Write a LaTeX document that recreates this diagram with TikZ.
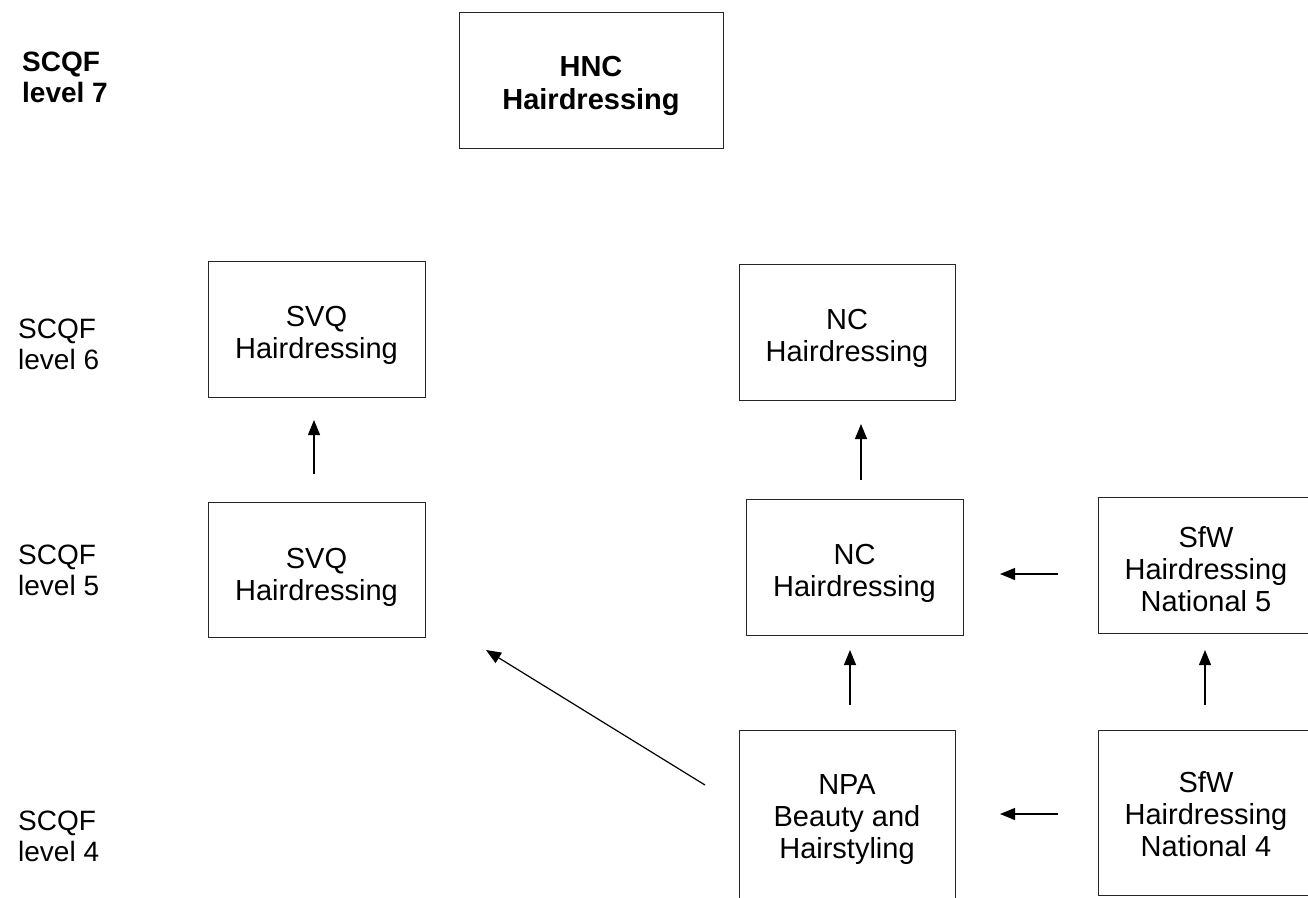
\documentclass[tikz,border=0pt]{standalone}
\usepackage{fontspec}
\setmainfont{Liberation Sans}
\usetikzlibrary{arrows.meta}
\begin{document}
\begin{tikzpicture}[x=1pt,y=-1pt,
  box/.style={draw=black!85,line width=1pt,inner sep=0pt},
  boxtext/.style={align=center,inner sep=0pt,yshift=-6pt,
    font=\fontsize{29}{32}\selectfont},
  boldtext/.style={boxtext,font=\bfseries\fontsize{29}{33}\selectfont},
  lvl/.style={anchor=base west,align=left,inner sep=0pt,
    font=\fontsize{28}{30.5}\selectfont},
  arr/.style={line width=1.2pt,-{Triangle[length=15pt,width=12pt]}}]
\clip (0,0) rectangle (1308,897);
\fill[white] (0,0) rectangle (1308,897);
% level labels (base anchor = baseline of the last line)
\node[lvl,font=\bfseries\fontsize{28}{30.5}\selectfont] (l7) at (22,102) {SCQF\\level 7};
\node[lvl] (l6) at (18,369) {SCQF\\level 6};
\node[lvl] (l5) at (18,595) {SCQF\\level 5};
\node[lvl] (l4) at (18,861) {SCQF\\level 4};
% boxes
\node[box,minimum width=264pt,minimum height=136pt,label={[boldtext]center:{HNC\\Hairdressing}}] (hnc) at (591,80) {};
\node[box,minimum width=217pt,minimum height=136pt,label={[boxtext]center:{SVQ\\Hairdressing}}] (svq6) at (316.5,329) {};
\node[box,minimum width=216pt,minimum height=136pt,label={[boxtext]center:{NC\\Hairdressing}}] (nc6) at (847,332) {};
\node[box,minimum width=217pt,minimum height=135pt,label={[boxtext,yshift=-2pt]center:{SVQ\\Hairdressing}}] (svq5) at (316.5,569.5) {};
\node[box,minimum width=217pt,minimum height=136pt,label={[boxtext]center:{NC\\Hairdressing}}] (nc5) at (854.5,567) {};
\node[box,minimum width=216pt,minimum height=136pt,label={[boxtext,yshift=2pt]center:{SfW\\Hairdressing\\National 5}}] (sfw5) at (1206,565) {};
\node[box,minimum width=216pt,minimum height=172pt,label={[boxtext,yshift=2pt]center:{NPA\\Beauty and\\Hairstyling}}] (npa) at (847,816) {};
\node[box,minimum width=216pt,minimum height=165pt,label={[boxtext,yshift=4pt]center:{SfW\\Hairdressing\\National 4}}] (sfw4) at (1206,812.5) {};
% arrow end points
\coordinate (a1s) at (314,474); \coordinate (a1e) at (314,420);
\coordinate (a2s) at (861,480); \coordinate (a2e) at (861,424);
\coordinate (a3s) at (1058,574); \coordinate (a3e) at (1000,574);
\coordinate (a4s) at (850,705); \coordinate (a4e) at (850,650);
\coordinate (a5s) at (1205,705); \coordinate (a5e) at (1205,650);
\coordinate (a6s) at (1058,814); \coordinate (a6e) at (1000,814);
\coordinate (a7s) at (705,785); \coordinate (a7e) at (486,650);
\draw[arr] (a1s) -- (a1e);
\draw[arr] (a2s) -- (a2e);
\draw[arr] (a3s) -- (a3e);
\draw[arr] (a4s) -- (a4e);
\draw[arr] (a5s) -- (a5e);
\draw[arr] (a6s) -- (a6e);
\draw[arr] (a7s) -- (a7e);
\end{tikzpicture}
\end{document}
